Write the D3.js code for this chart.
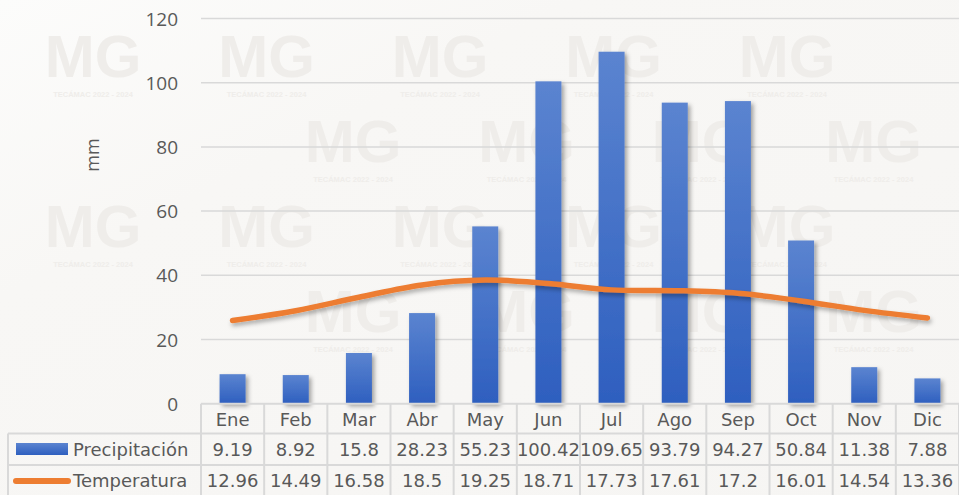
<!DOCTYPE html>
<html>
<head>
<meta charset="utf-8">
<script src="https://cdn.jsdelivr.net/npm/d3@7"></script>
<style>
html,body{margin:0;padding:0;background:#f7f6f4;}
svg{display:block;}
</style>
</head>
<body>
<svg id="chart" width="959" height="495"></svg>
<script>
const months = ["Ene","Feb","Mar","Abr","May","Jun","Jul","Ago","Sep","Oct","Nov","Dic"];
const precipitation = [9.19, 8.92, 15.8, 28.23, 55.23, 100.42, 109.65, 93.79, 94.27, 50.84, 11.38, 7.88];
const temperature = [12.96, 14.49, 16.58, 18.5, 19.25, 18.71, 17.73, 17.61, 17.2, 16.01, 14.54, 13.36];
const yTicks = [0, 20, 40, 60, 80, 100, 120];
const seriesNames = ["Precipitación", "Temperatura"];
const watermarkMain = "MG";
const watermarkSub = "TECÁMAC 2022 - 2024";

const W = 959, H = 495;
const svg = d3.select("#chart");
const defs = svg.append("defs");

// background gradient
const bg = defs.append("linearGradient").attr("id","bg").attr("x1","0").attr("y1","0").attr("x2","1").attr("y2","1");
bg.append("stop").attr("offset","0").attr("stop-color","#fcfcfb");
bg.append("stop").attr("offset","0.3").attr("stop-color","#f8f7f5");
bg.append("stop").attr("offset","1").attr("stop-color","#f6f5f3");
svg.append("rect").attr("width",W).attr("height",H).attr("fill","url(#bg)");

// watermarks (only the fully visible tiles)
const wm = svg.append("g").attr("class","watermark");
for (let r = 0; r < 6; r++) {
  const top = 35 + r * 85;
  const off = (r % 2 === 0) ? 93 : 6;
  for (let c = 0; c < 7; c++) {
    const cx = off + c * 173.5;
    if (cx < 50 || cx > W - 50 || top + 64 > H) continue;
    const g = wm.append("g").attr("class","wmg");
    g.append("text").attr("class","wmt").attr("text-anchor","middle")
      .attr("font-family","Liberation Sans, Arial, sans-serif")
      .attr("font-weight","bold").attr("fill","#efedea")
      .attr("x", cx).attr("y", top + 42).attr("font-size",60).text(watermarkMain);
    g.append("text").attr("class","wmt").attr("text-anchor","middle")
      .attr("font-family","Liberation Sans, Arial, sans-serif")
      .attr("font-weight","bold").attr("fill","#efedea")
      .attr("x", cx).attr("y", top + 62).attr("font-size",7.5).text(watermarkSub);
  }
}

// scales
const plotL = 201, plotR = 959, plotT = 18.5, plotB = 403.7;
const x = d3.scaleBand().domain(months).range([plotL, plotR]).paddingInner(0).paddingOuter(0);
const y = d3.scaleLinear().domain([0,120]).range([plotB, plotT]);
const y2 = d3.scaleLinear().domain([0,60]).range([plotB, plotT]);

// gridlines
const grid = svg.append("g");
grid.selectAll("line").data(yTicks.filter(d => d > 0)).join("line")
  .attr("x1", plotL).attr("x2", plotR)
  .attr("y1", d => y(d)).attr("y2", d => y(d))
  .attr("stroke","#d9d9d9").attr("stroke-width",1.5);

// y axis labels
const yAxis = d3.axisLeft(y).tickValues(yTicks).tickSize(0).tickPadding(0);
const ya = svg.append("g").attr("transform","translate(178,0)").call(yAxis);
ya.select(".domain").remove();
ya.selectAll("text")
  .attr("font-family","Open Sans, sans-serif").attr("font-size",19)
  .attr("fill","#595959").attr("dy","0.35em");

svg.append("text")
  .attr("transform","translate(99,155) rotate(-90)")
  .attr("text-anchor","middle")
  .attr("font-family","Open Sans, sans-serif").attr("font-size",18)
  .attr("fill","#595959").text("mm");

// filters
const sh = defs.append("filter").attr("id","shadow").attr("x","-30%").attr("y","-30%").attr("width","180%").attr("height","180%");
sh.append("feDropShadow").attr("dx",2.5).attr("dy",2.5).attr("stdDeviation",2.2).attr("flood-color","#000").attr("flood-opacity",0.35);
const sh2 = defs.append("filter").attr("id","lshadow").attr("x","-10%").attr("y","-50%").attr("width","120%").attr("height","200%");
sh2.append("feDropShadow").attr("dx",1.5).attr("dy",3).attr("stdDeviation",2).attr("flood-color","#000").attr("flood-opacity",0.3);

const bgrad = defs.append("linearGradient").attr("id","barGrad").attr("x1","0").attr("y1","0").attr("x2","0").attr("y2","1");
bgrad.append("stop").attr("offset","0").attr("stop-color","#5b84d0");
bgrad.append("stop").attr("offset","1").attr("stop-color","#2e5fbf");

// bars
const barW = 26;
svg.append("g").selectAll("rect").data(precipitation).join("rect")
  .attr("x", (d,i) => x(months[i]) + x.bandwidth()/2 - barW/2)
  .attr("y", d => y(d))
  .attr("width", barW)
  .attr("height", d => plotB - y(d))
  .attr("fill","url(#barGrad)")
  .attr("filter","url(#shadow)");

// temperature line
const line = d3.line()
  .x((d,i) => x(months[i]) + x.bandwidth()/2)
  .y(d => y2(d))
  .curve(d3.curveCatmullRom.alpha(0.5));
svg.append("path").datum(temperature)
  .attr("d", line)
  .attr("fill","none").attr("stroke","#ed7d31")
  .attr("stroke-width",5.5).attr("stroke-linecap","round").attr("stroke-linejoin","round")
  .attr("filter","url(#lshadow)");

// data table
const tbl = svg.append("g");
const rowY = [plotB, 433.5, 465, 497];
const tableL = 8;
const borderC = "#d9d9d9";
tbl.append("line").attr("x1",plotL).attr("x2",plotR).attr("y1",rowY[0]).attr("y2",rowY[0]).attr("stroke",borderC).attr("stroke-width",2);
[rowY[1], rowY[2], rowY[3]].forEach(yy => {
  tbl.append("line").attr("x1",tableL).attr("x2",plotR).attr("y1",yy).attr("y2",yy).attr("stroke",borderC).attr("stroke-width",2);
});
tbl.selectAll("line.v").data(d3.range(13)).join("line").attr("class","v")
  .attr("x1", i => plotL + i * x.bandwidth()).attr("x2", i => plotL + i * x.bandwidth())
  .attr("y1", rowY[0]).attr("y2", rowY[3])
  .attr("stroke",borderC).attr("stroke-width",2);
tbl.append("line").attr("x1",tableL).attr("x2",tableL).attr("y1",rowY[1]).attr("y2",rowY[3]).attr("stroke",borderC).attr("stroke-width",2);

const tf = "DejaVu Sans, Verdana, sans-serif";
const tfs = 18;
tbl.selectAll("text.m").data(months).join("text").attr("class","m")
  .attr("x", d => x(d) + x.bandwidth()/2).attr("y", 426)
  .attr("text-anchor","middle").attr("font-family",tf).attr("font-size",tfs)
  .attr("fill","#595959").text(d => d);
tbl.selectAll("text.p").data(precipitation).join("text").attr("class","p")
  .attr("x", (d,i) => x(months[i]) + x.bandwidth()/2).attr("y", 456)
  .attr("text-anchor","middle").attr("font-family",tf).attr("font-size",tfs)
  .attr("fill","#595959").text(d => d);
tbl.selectAll("text.t").data(temperature).join("text").attr("class","t")
  .attr("x", (d,i) => x(months[i]) + x.bandwidth()/2).attr("y", 487)
  .attr("text-anchor","middle").attr("font-family",tf).attr("font-size",tfs)
  .attr("fill","#595959").text(d => d);

// legend keys
tbl.append("rect").attr("x",16).attr("y",443).attr("width",52).attr("height",12)
  .attr("fill","url(#barGrad)");
tbl.append("line").attr("x1",16).attr("x2",68).attr("y1",481).attr("y2",481)
  .attr("stroke","#ed7d31").attr("stroke-width",6).attr("stroke-linecap","round");
tbl.append("text").attr("x",73).attr("y",456).attr("font-family",tf).attr("font-size",tfs)
  .attr("fill","#595959").text(seriesNames[0]);
tbl.append("text").attr("x",73).attr("y",487).attr("font-family",tf).attr("font-size",tfs)
  .attr("fill","#595959").text(seriesNames[1]);

// drop watermark tiles that would sit under chart text
const chartTexts = svg.selectAll("text:not(.wmt)").nodes().map(n => n.getBoundingClientRect());
svg.selectAll("g.wmg").each(function() {
  const b = this.getBoundingClientRect();
  const pad = 4;
  const hit = chartTexts.some(o => !(o.right + pad < b.left || o.left - pad > b.right || o.bottom + pad < b.top || o.top - pad > b.bottom));
  if (hit) d3.select(this).remove();
});
</script>
</body>
</html>
